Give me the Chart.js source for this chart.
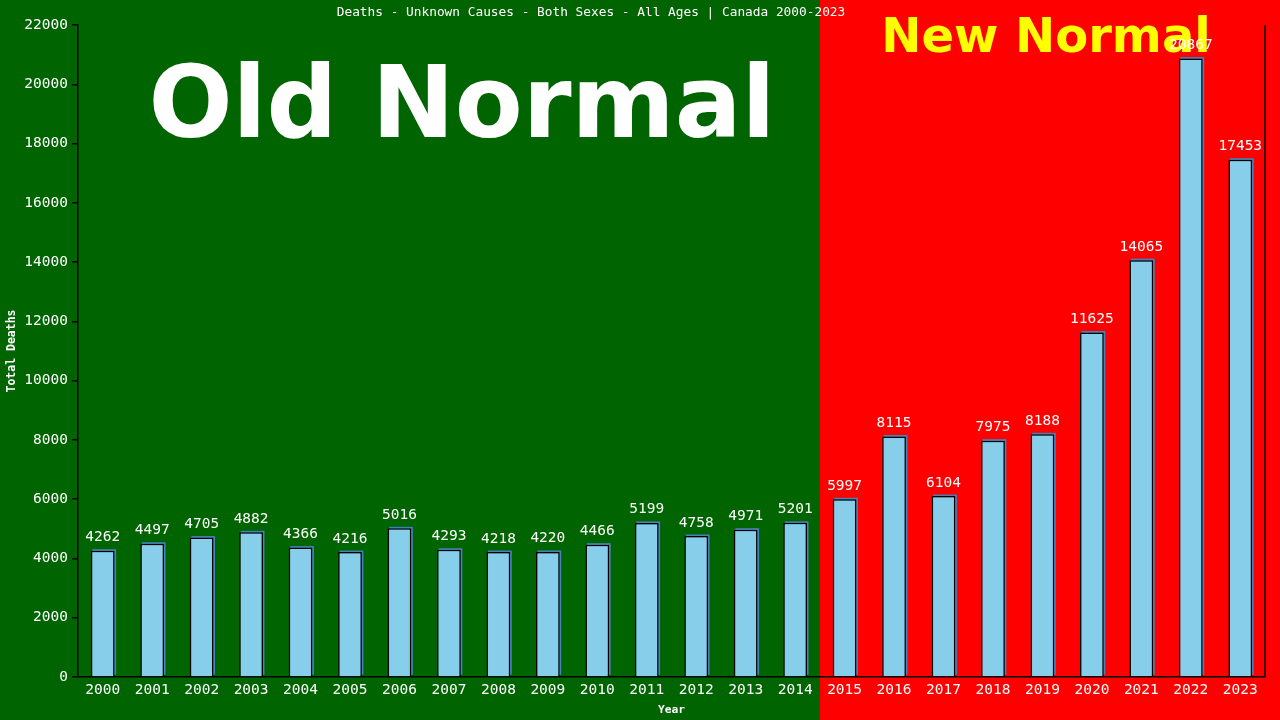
<!DOCTYPE html>
<html>
<head>
<meta charset="utf-8">
<title>Deaths - Unknown Causes - Canada 2000-2023</title>
<script src="https://cdn.jsdelivr.net/npm/chart.js@4.4.1/dist/chart.umd.min.js"></script>
<style>
  html, body { margin: 0; padding: 0; background: #006400; }
  #wrap { width: 1280px; height: 720px; }
</style>
</head>
<body>
<div id="wrap"><canvas id="deathsChart" width="1280" height="720"></canvas></div>
<script>
// Chart data
const years = ['2000', '2001', '2002', '2003', '2004', '2005', '2006', '2007', '2008', '2009', '2010', '2011',
  '2012', '2013', '2014', '2015', '2016', '2017', '2018', '2019', '2020', '2021', '2022', '2023'];
const deaths = [4262, 4497, 4705, 4882, 4366, 4216, 5016, 4293, 4218, 4220, 4466, 5199,
  4758, 4971, 5201, 5997, 8115, 6104, 7975, 8188, 11625, 14065, 20867, 17453];
const lastOldYear = '2014';
const chartTitle = 'Deaths - Unknown Causes - Both Sexes - All Ages | Canada 2000-2023';

const mono = '"DejaVu Sans Mono", monospace';

// Split the page into green (old) and red (new) halves, plus the overlays
const backdropPlugin = {
  id: 'backdrop',
  splitX(chart) {
    const x = chart.scales.x;
    const i = years.indexOf(lastOldYear);
    return (x.getPixelForValue(i) + x.getPixelForValue(i + 1)) / 2;
  },
  beforeDraw(chart) {
    const ctx = chart.ctx;
    const split = this.splitX(chart);
    ctx.save();
    ctx.fillStyle = '#006400';
    ctx.fillRect(0, 0, split, chart.height);
    ctx.fillStyle = '#ff0000';
    ctx.fillRect(split, 0, chart.width - split, chart.height);
    ctx.restore();
  },
  beforeDatasetsDraw(chart) {
    const ctx = chart.ctx;
    const area = chart.chartArea;
    const split = this.splitX(chart);
    ctx.save();
    ctx.textAlign = 'center';
    ctx.textBaseline = 'alphabetic';
    ctx.fillStyle = '#ffffff';
    ctx.font = 'bold 99px "DejaVu Sans", sans-serif';
    ctx.fillText('Old Normal', (area.left + split) / 2 + 13, 137);
    ctx.fillStyle = '#ffff00';
    ctx.font = 'bold 48px "DejaVu Sans", sans-serif';
    ctx.fillText('New Normal', 1046, 52);

    // thin steel-blue shadow up and to the right of each bar
    ctx.fillStyle = '#4682b4';
    chart.getDatasetMeta(0).data.forEach(bar => {
      const half = bar.width / 2;
      ctx.fillRect(bar.x - half + 1.5, bar.y - 1.5, bar.width, bar.base - bar.y);
    });
    ctx.restore();
  },
  afterDatasetsDraw(chart) {
    const ctx = chart.ctx;
    const meta = chart.getDatasetMeta(0);
    ctx.save();
    ctx.fillStyle = '#ffffff';
    ctx.font = '14.5px ' + mono;
    ctx.textAlign = 'center';
    ctx.textBaseline = 'bottom';
    meta.data.forEach((bar, i) => {
      ctx.fillText(String(deaths[i]), bar.x, bar.y - 6);
    });
    ctx.restore();
  },
  afterDraw(chart) {
    const ctx = chart.ctx;
    const area = chart.chartArea;
    ctx.save();
    ctx.strokeStyle = '#000000';
    ctx.lineWidth = 1.5;
    ctx.beginPath();
    ctx.moveTo(area.right, area.top);
    ctx.lineTo(area.right, area.bottom);
    ctx.stroke();
    ctx.fillStyle = '#ffffff';
    ctx.font = '12.8px ' + mono;
    ctx.textAlign = 'center';
    ctx.textBaseline = 'middle';
    ctx.fillText(chartTitle, 591, 13);
    ctx.restore();
  }
};

new Chart(document.getElementById('deathsChart'), {
  type: 'bar',
  data: {
    labels: years,
    datasets: [{
      label: 'Total Deaths',
      data: deaths,
      backgroundColor: '#87ceeb',
      borderColor: '#000000',
      borderWidth: 1.5,
      barPercentage: 0.48,
      categoryPercentage: 1.0
    }]
  },
  options: {
    responsive: false,
    animation: false,
    devicePixelRatio: 1,
    layout: { padding: { top: 25, right: 15, left: 0, bottom: 0 } },
    plugins: {
      legend: { display: false },
      tooltip: { enabled: false }
    },
    scales: {
      x: {
        grid: { display: false, drawTicks: false },
        border: { color: '#000000', width: 1.5 },
        ticks: { color: '#ffffff', font: { family: mono, size: 14.5 }, padding: 5, maxRotation: 0, autoSkip: false },
        title: { display: true, text: 'Year', color: '#ffffff', font: { family: mono, size: 11.3, weight: 'bold' }, padding: 3 },
        afterFit(scale) { scale.height = 43; }
      },
      y: {
        min: 0,
        max: 22000,
        grid: { drawOnChartArea: false, color: '#000000', tickLength: 6, lineWidth: 1.5 },
        border: { color: '#000000', width: 1.5 },
        ticks: {
          stepSize: 2000,
          color: '#ffffff',
          font: { family: mono, size: 14.5 },
          padding: 4,
          callback: value => String(value)
        },
        title: { display: true, text: 'Total Deaths', color: '#ffffff', font: { family: mono, size: 11.5, weight: 'bold' }, padding: 5 },
        afterFit(scale) { scale.width = 78; }
      }
    }
  },
  plugins: [backdropPlugin]
});
</script>
</body>
</html>
